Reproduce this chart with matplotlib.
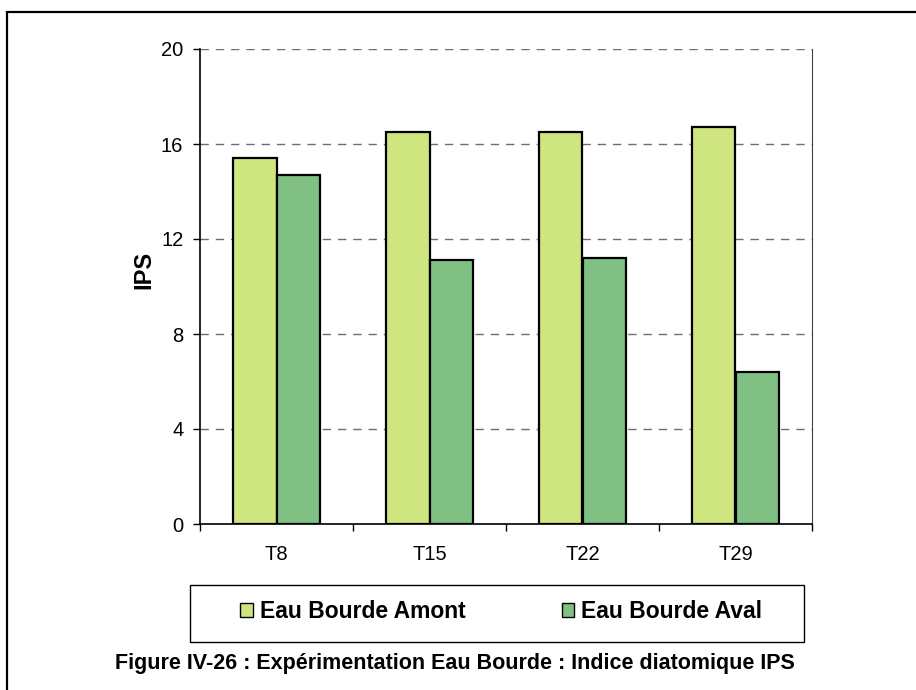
import matplotlib
matplotlib.use("Agg")
import matplotlib.pyplot as plt
from matplotlib.patches import Rectangle, Patch
import numpy as np

plt.rcParams['font.family'] = ['Liberation Sans', 'DejaVu Sans']

categories = ["T8", "T15", "T22", "T29"]
amont = [15.4, 16.5, 16.5, 16.7]
aval = [14.7, 11.1, 11.2, 6.4]
series_names = ["Eau Bourde Amont", "Eau Bourde Aval"]
y_ticks = [0, 4, 8, 12, 16, 20]
caption = "Figure IV-26 : Expérimentation Eau Bourde : Indice diatomique IPS"

W, H = 916, 690
fig = plt.figure(figsize=(W / 100, H / 100), dpi=100)

def fx(px):
    return px / W

def fy(py):
    return 1 - py / H

# plot area in pixel coordinates
left, right, top, bottom = 200, 812, 49, 524
ax = fig.add_axes([fx(left), fy(bottom), fx(right - left), (bottom - top) / H])

col_amont = "#CFE580"
col_aval = "#80C183"
bw = 1 / 3.5
x = np.arange(len(categories))
ax.bar(x - bw / 2, amont, bw, color=col_amont, edgecolor="black", linewidth=1.6, zorder=3)
ax.bar(x + bw / 2, aval, bw, color=col_aval, edgecolor="black", linewidth=1.6, zorder=3)

ax.set_xlim(-0.5, len(categories) - 0.5)
ax.set_ylim(0, 20)
ax.set_yticks(y_ticks)
ax.set_yticklabels([str(v) for v in y_ticks], fontsize=14.5)
ax.set_xticks(x)
ax.set_xticklabels(categories, fontsize=14.5)
ax.set_xticks(np.arange(-0.5, len(categories), 1.0), minor=True)
ax.tick_params(axis="x", which="major", length=0, pad=15)
ax.tick_params(axis="x", which="minor", length=5, width=1, direction="out")
ax.tick_params(axis="y", length=5, width=1, direction="out", pad=7)

for v in y_ticks[1:]:
    ax.axhline(v, color="#6e6e6e", linewidth=1.0, linestyle=(0, (6, 5)), zorder=1)

ax.spines["top"].set_visible(False)
ax.spines["right"].set_color("#404040")
ax.spines["left"].set_linewidth(1.2)
ax.spines["bottom"].set_linewidth(1.2)

fig.text(fx(144), fy(270), "IPS", rotation=90, ha="center", va="center",
         fontsize=17, fontweight="bold")

# legend box
fig.patches.append(Rectangle((fx(190), fy(642)), fx(614), 57 / H, transform=fig.transFigure,
                             facecolor="white", edgecolor="black", linewidth=1.0))
handles = [Patch(facecolor=col_amont, edgecolor="black", linewidth=1.0),
           Patch(facecolor=col_aval, edgecolor="black", linewidth=1.0)]
fig.legend(handles, series_names, loc="center", bbox_to_anchor=(fx(501), fy(612)), ncol=2,
           frameon=False, prop={"size": 16.5, "weight": "bold"}, handlelength=0.55,
           handleheight=0.55, handletextpad=0.3, columnspacing=4.2)

fig.text(fx(455), fy(663), caption, ha="center", va="center", fontsize=15.5, fontweight="bold")

# outer frame
fig.patches.append(Rectangle((fx(7), -0.05), 1.2, fy(12) + 0.05, transform=fig.transFigure,
                             facecolor="none", edgecolor="black", linewidth=1.6))

fig.savefig("out.png", dpi=100)
